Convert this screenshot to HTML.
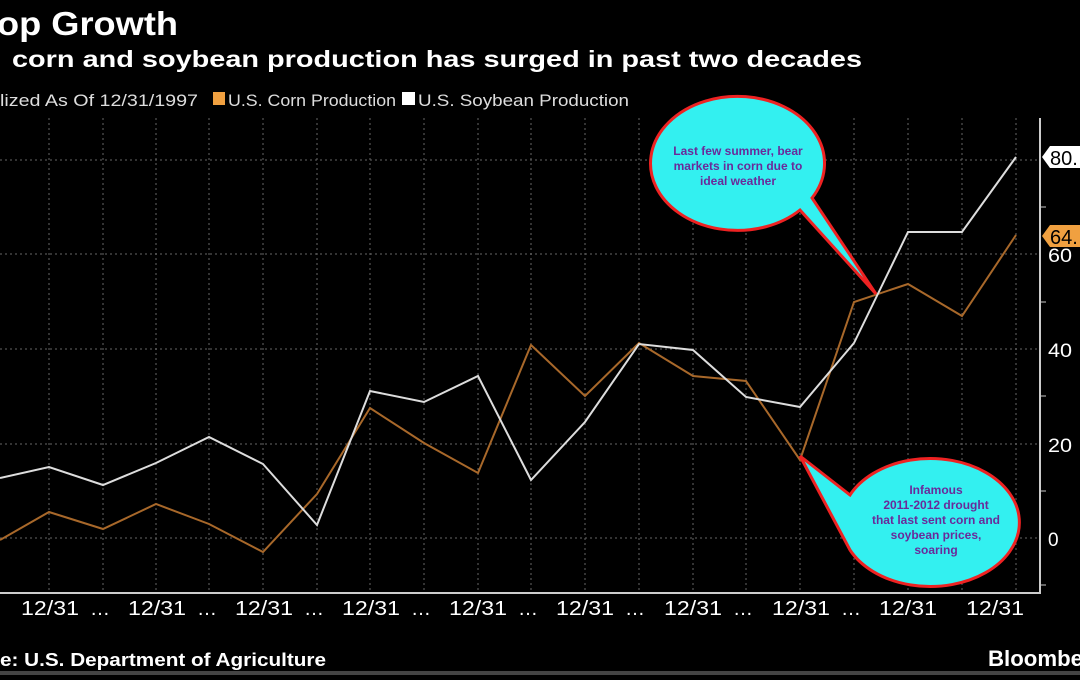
<!DOCTYPE html>
<html><head><meta charset="utf-8"><style>
body{margin:0;background:#000;width:1080px;height:675px;overflow:hidden;font-family:"Liberation Sans",sans-serif}
</style></head><body>
<svg width="1080" height="675" viewBox="0 0 1080 675" xmlns="http://www.w3.org/2000/svg" font-family="Liberation Sans, sans-serif">
<rect width="1080" height="675" fill="#000"/>
<text x="-3" y="35" fill="#fff" font-size="33" font-weight="bold" textLength="181" lengthAdjust="spacingAndGlyphs">op Growth</text>
<text x="12" y="67" fill="#fff" font-size="23" font-weight="bold" textLength="850" lengthAdjust="spacingAndGlyphs">corn and soybean production has surged in past two decades</text>
<g font-size="17" fill="#ddd">
<text x="0" y="106" textLength="198" lengthAdjust="spacingAndGlyphs">lized As Of 12/31/1997</text>
<rect x="213" y="92" width="12" height="13" fill="#f0a040"/>
<text x="228" y="106" textLength="168" lengthAdjust="spacingAndGlyphs">U.S. Corn Production</text>
<rect x="402" y="92" width="13" height="13" fill="#fff"/>
<text x="418" y="106" textLength="211" lengthAdjust="spacingAndGlyphs">U.S. Soybean Production</text>
</g>
<g stroke="#666" stroke-dasharray="2,3" stroke-width="1">
<line x1="0" y1="160" x2="1040" y2="160"/><line x1="0" y1="254" x2="1040" y2="254"/>
<line x1="0" y1="349" x2="1040" y2="349"/><line x1="0" y1="444" x2="1040" y2="444"/>
<line x1="0" y1="538" x2="1040" y2="538"/>
<line x1="49" y1="118" x2="49" y2="593"/><line x1="103" y1="118" x2="103" y2="593"/><line x1="156" y1="118" x2="156" y2="593"/><line x1="209" y1="118" x2="209" y2="593"/><line x1="263" y1="118" x2="263" y2="593"/><line x1="317" y1="118" x2="317" y2="593"/><line x1="370" y1="118" x2="370" y2="593"/><line x1="424" y1="118" x2="424" y2="593"/><line x1="478" y1="118" x2="478" y2="593"/><line x1="531" y1="118" x2="531" y2="593"/><line x1="585" y1="118" x2="585" y2="593"/><line x1="639" y1="118" x2="639" y2="593"/><line x1="693" y1="118" x2="693" y2="593"/><line x1="746" y1="118" x2="746" y2="593"/><line x1="800" y1="118" x2="800" y2="593"/><line x1="854" y1="118" x2="854" y2="593"/><line x1="908" y1="118" x2="908" y2="593"/><line x1="962" y1="118" x2="962" y2="593"/><line x1="1016" y1="118" x2="1016" y2="593"/>
</g>
<line x1="0" y1="593" x2="1041" y2="593" stroke="#ccc" stroke-width="2"/>
<line x1="1040" y1="118" x2="1040" y2="594" stroke="#ccc" stroke-width="2"/>
<g stroke="#ccc"><line x1="1040" y1="207" x2="1046" y2="207"/><line x1="1040" y1="302" x2="1046" y2="302"/><line x1="1040" y1="396" x2="1046" y2="396"/><line x1="1040" y1="491" x2="1046" y2="491"/><line x1="1040" y1="585" x2="1046" y2="585"/></g>
<g fill="#fff" font-size="19">
<text x="1048" y="262" textLength="24" lengthAdjust="spacingAndGlyphs">60</text><text x="1048" y="357" textLength="24" lengthAdjust="spacingAndGlyphs">40</text><text x="1048" y="452" textLength="24" lengthAdjust="spacingAndGlyphs">20</text><text x="1048" y="546">0</text>
</g>
<polyline fill="none" stroke="#a8682a" stroke-width="2" points="0,540 49,512 103,529 156,504 209,524 263,552 317,494 370,408 424,443 478,473 531,345 585,396 639,343 693,376 746,381 800,460 854,302 908,284 962,316 1016,235"/>
<polyline fill="none" stroke="#ddd" stroke-width="2" points="0,478 49,467 103,485 156,463 209,437 263,464 317,525 370,391 424,402 478,376 531,480 585,422 639,344 693,350 746,397 800,407 854,343 908,232 962,232 1016,157"/>
<path d="M1042,157 L1050,146 H1080 V168 H1050 Z" fill="#fff"/>
<text x="1050" y="165" font-size="20" fill="#000">80.</text>
<path d="M1042,236 L1050,225 H1080 V247 H1050 Z" fill="#f0a040"/>
<text x="1050" y="244" font-size="20" fill="#000">64.</text>
<g fill="#fff" font-size="20">
<text x="21" y="615" textLength="58" lengthAdjust="spacingAndGlyphs">12/31</text><text x="90" y="615">…</text>
<text x="128" y="615" textLength="58" lengthAdjust="spacingAndGlyphs">12/31</text><text x="197" y="615">…</text>
<text x="235" y="615" textLength="58" lengthAdjust="spacingAndGlyphs">12/31</text><text x="304" y="615">…</text>
<text x="342" y="615" textLength="58" lengthAdjust="spacingAndGlyphs">12/31</text><text x="411" y="615">…</text>
<text x="449" y="615" textLength="58" lengthAdjust="spacingAndGlyphs">12/31</text><text x="518" y="615">…</text>
<text x="556" y="615" textLength="58" lengthAdjust="spacingAndGlyphs">12/31</text><text x="625" y="615">…</text>
<text x="664" y="615" textLength="58" lengthAdjust="spacingAndGlyphs">12/31</text><text x="733" y="615">…</text>
<text x="772" y="615" textLength="58" lengthAdjust="spacingAndGlyphs">12/31</text><text x="841" y="615">…</text>
<text x="879" y="615" textLength="58" lengthAdjust="spacingAndGlyphs">12/31</text>
<text x="966" y="615" textLength="58" lengthAdjust="spacingAndGlyphs">12/31</text>
</g>
<text x="0" y="666" fill="#fff" font-size="18" font-weight="bold" textLength="326" lengthAdjust="spacingAndGlyphs">e: U.S. Department of Agriculture</text>
<text x="988" y="666" fill="#fff" font-size="22" font-weight="bold" textLength="95" lengthAdjust="spacingAndGlyphs">Bloombe</text>
<rect x="0" y="671" width="1080" height="4" fill="#444"/>
<path d="M 800,210 A 87,67 0 1 1 812,198 L 876,294 Z" fill="#33f0f0" stroke="#ee2222" stroke-width="3"/>
<path d="M 850,495 A 89,64 0 1 1 850,550 L 800,456 Z" fill="#33f0f0" stroke="#ee2222" stroke-width="3"/>
<g fill="#6a2a9a" font-size="12" font-weight="bold" text-anchor="middle">
<text x="738" y="155">Last few summer, bear</text>
<text x="738" y="170">markets in corn due to</text>
<text x="738" y="185">ideal weather</text>
<text x="936" y="494">Infamous</text>
<text x="936" y="509">2011-2012 drought</text>
<text x="936" y="524">that last sent corn and</text>
<text x="936" y="539">soybean prices,</text>
<text x="936" y="554">soaring</text>
</g>
</svg>
</body></html>
